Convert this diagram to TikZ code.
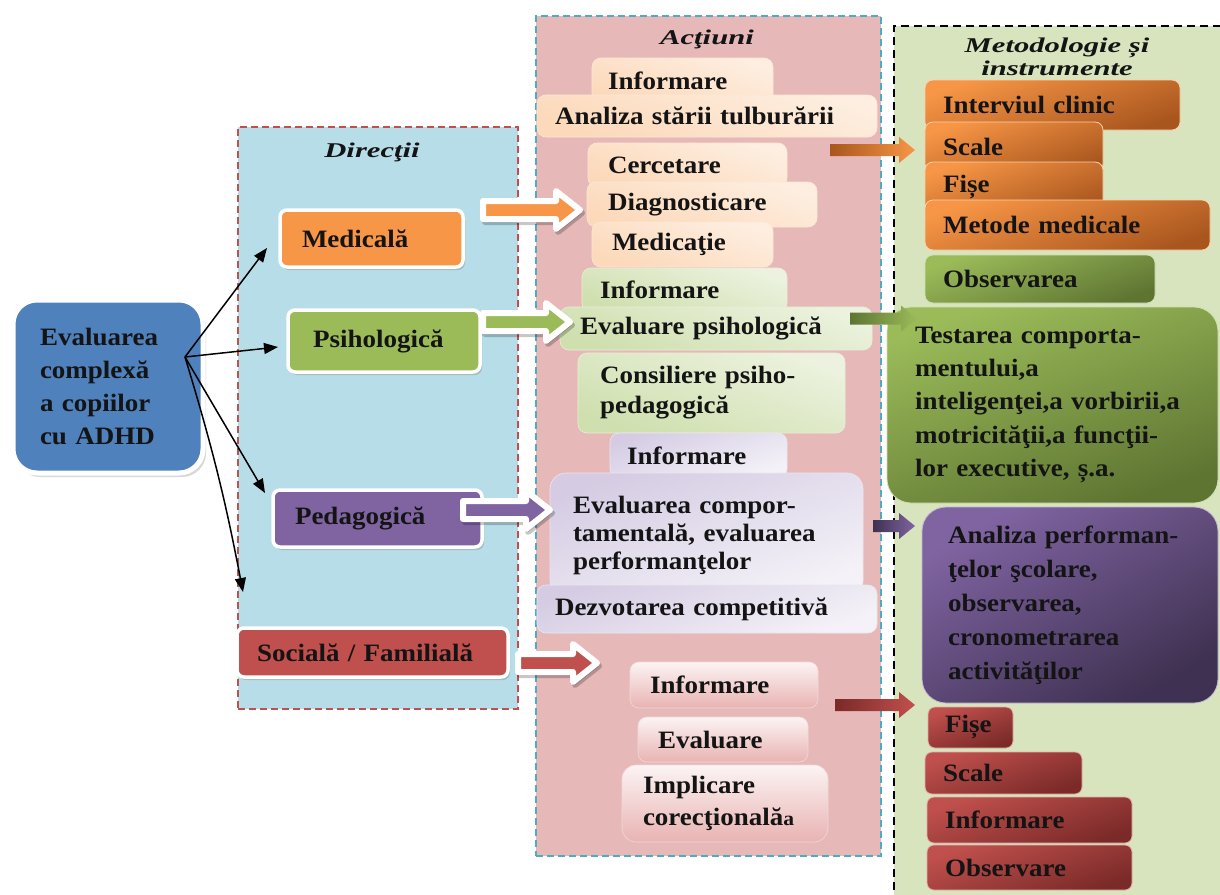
\documentclass[tikz,border=0pt]{standalone}
\usepackage{fontspec}
\setmainfont{Liberation Serif}[FakeStretch=1.08]
\usepackage{graphicx}
\usetikzlibrary{shadows,arrows.meta,calc}
\definecolor{dirbg}{HTML}{B7DEE8}
\definecolor{actbg}{HTML}{E6B9B8}
\definecolor{metbg}{HTML}{D7E4BD}
\definecolor{cblue}{HTML}{4F81BD}
\definecolor{corange}{HTML}{F79646}
\definecolor{cgreen}{HTML}{9BBB59}
\definecolor{cpurple}{HTML}{8064A2}
\definecolor{cred}{HTML}{C0504D}
\definecolor{cteal}{HTML}{4BACC6}
\definecolor{dorange}{HTML}{A9561E}
\definecolor{dgreen}{HTML}{5E7532}
\definecolor{dpurple}{HTML}{3F3151}
\definecolor{dred}{HTML}{7A2A28}
\definecolor{lorange}{HTML}{FBCFA8}
\definecolor{lgreen}{HTML}{CFDFAE}
\definecolor{lpurple}{HTML}{D5CCE3}
\definecolor{lred}{HTML}{E8B3B2}
\newcommand\bodyfont{\fontsize{25}{29}\selectfont\bfseries}
\newcommand\ttlfont{\fontsize{21}{23}\selectfont\bfseries\itshape}
\newcommand\ttl[1]{\scalebox{1.35}[1]{#1}}
\newcommand\fatpath[1]{(0,-9) -- ({#1-24},-9) -- ({#1-24},-19) -- (#1,0) -- ({#1-24},19) -- ({#1-24},9) -- (0,9) -- cycle}
\newcommand\solpath[1]{(0,-6) -- ({#1-16},-6) -- ({#1-16},-13) -- (#1,0) -- ({#1-16},13) -- ({#1-16},6) -- (0,6) -- cycle}
\tikzset{
  pics/fatarrow/.style n args={2}{code={
    \begin{scope}[shift={(2,3)}]
      \fill[black,opacity=.22,line width=6pt,draw=black,draw opacity=.22,line join=round] \fatpath{#1};
    \end{scope}
    \draw[white,line width=6pt,line join=round,fill=#2] \fatpath{#1};
  }},
  pics/solarrow/.style n args={3}{code={
    \shade[left color=#2,right color=#3] \solpath{#1};
  }},
}
\begin{document}
\begin{tikzpicture}[x=1pt,y=-1pt,
  every node/.style={font=\bodyfont,text=black!92},
  panel/.style={anchor=north west,inner sep=0pt,line width=1.6pt,dash pattern=on 7pt off 4pt},
  ttlnode/.style={font=\ttlfont,align=center,inner sep=0pt},
  box/.style={anchor=north west,align=left,inner ysep=0pt,outer sep=0pt},
  dirbox/.style={box,rounded corners=7pt,draw=white,line width=3.5pt,
    drop shadow={opacity=.35,shadow xshift=2pt,shadow yshift=-3pt}},
  mainbox/.style={box,rounded corners=24pt,draw=white,line width=5pt,fill=cblue,
    drop shadow={opacity=.3,shadow xshift=3pt,shadow yshift=-4pt}},
  actor/.style={box,rounded corners=9pt,draw=white!50!lorange,line width=.6pt,top color=white!20!lorange,bottom color=white!65!lorange,shading angle=160},
  actgr/.style={box,rounded corners=9pt,draw=white!50!lgreen,line width=.6pt,top color=lgreen,bottom color=white!60!lgreen,shading angle=160},
  actpu/.style={box,rounded corners=9pt,draw=white!50!lpurple,line width=.6pt,top color=white!75!lpurple,bottom color=lpurple,shading angle=200},
  actre/.style={box,rounded corners=9pt,draw=white!50!lred,line width=.6pt,top color=white!85!lred,bottom color=lred},
  metor/.style={box,rounded corners=8pt,draw=white!55!corange,line width=.8pt,top color=corange,bottom color=dorange,shading angle=20},
  metgr/.style={box,rounded corners=8pt,draw=white!55!cgreen,line width=.8pt,top color=cgreen,bottom color=dgreen,shading angle=20},
  metpu/.style={box,rounded corners=24pt,draw=white!55!cpurple,line width=.8pt,top color=cpurple,bottom color=dpurple,shading angle=30},
  metre/.style={box,rounded corners=7pt,draw=white!55!cred,line width=.8pt,top color=cred,bottom color=dred,shading angle=20},
  blk/.style={line width=1.5pt,-{Triangle[length=14pt,width=11pt]}},
]
\clip (0,0) rectangle (1220,894);
\fill[white] (0,0) rectangle (1220,894);

% panels
\node[panel,fill=dirbg,draw=cred,minimum width=280,minimum height=582] (dir) at (237,126) {};
\node[panel,fill=actbg,draw=cteal,minimum width=345,minimum height=840] (act) at (535,15) {};
\node[panel,fill=metbg,draw=black,line width=2.4pt,dash pattern=on 8pt off 5pt,minimum width=345,minimum height=885] (met) at (893,25) {};

\node[ttlnode] (tdir) at (372,152) {\ttl{Direcţii}};
\node[ttlnode] (tact) at (707,39) {\ttl{Acţiuni}};
\node[ttlnode] (tmet) at (1057,57) {\ttl{Metodologie și}\\\ttl{instrumente}};

% main box
\node[mainbox,text width=136,inner xsep=27,minimum height=173,font=\fontsize{25}{33}\selectfont\bfseries] (eval) at (13,300)
  {Evaluarea\\complexă\\a copiilor\\cu ADHD};

% direction boxes
\node[dirbox,fill=corange,text width=139,inner xsep=22,minimum height=57] (med) at (280,210) {Medicală};
\node[dirbox,fill=cgreen,text width=142,inner xsep=25,minimum height=62] (psi) at (288,310) {Psihologică};
\node[dirbox,fill=cpurple,text width=165,inner xsep=22,minimum height=57] (ped) at (273,490) {Pedagogică};
\node[dirbox,fill=cred,text width=231,inner xsep=20,minimum height=49] (soc) at (237,628) {Socială / Familială};

% black arrows
\coordinate (hub) at (185,357);
\coordinate (tmed) at (267,248);
\coordinate (tpsi) at (278,347);
\coordinate (tped) at (265,493);
\coordinate (tsoc) at (243,592);
\draw[blk] (hub) -- (tmed);
\draw[blk] (hub) -- (tpsi);
\draw[blk] (hub) -- (tped);
\draw[blk] (hub) to[bend left=3] (tsoc);

% actions
\node[actor,text width=149,inner xsep=16,minimum height=45] (ainf) at (592,58) {Informare};
\node[actor,text width=304,inner xsep=18,minimum height=42] (aana) at (537,95) {Analiza stării tulburării};
\node[actor,text width=159,inner xsep=20,minimum height=44] (acer) at (588,143) {Cercetare};
\node[actor,text width=188,inner xsep=21,minimum height=45] (adia) at (587,182) {Diagnosticare};
\node[actor,text width=141,inner xsep=20,minimum height=45] (amed) at (592,222) {Medicaţie};

\node[actgr,text width=169,inner xsep=18,minimum height=44] (ginf) at (582,268) {Informare};
\node[actgr,text width=272,inner xsep=20,minimum height=43] (gev) at (560,307) {Evaluare psihologică};
\node[actgr,text width=223,inner xsep=22,minimum height=80,font=\fontsize{25}{30}\selectfont\bfseries] (gcon) at (578,353) {Consiliere psiho-\\pedagogică};

\node[actpu,text width=143,inner xsep=17,minimum height=45] (pinf) at (610,433) {Informare};
\node[actpu,rounded corners=16pt,text width=267,inner xsep=23,minimum height=124,font=\fontsize{25}{28}\selectfont\bfseries] (pev) at (550,473) {Evaluarea compor-\\\mbox{tamentală, evaluarea}\\performanţelor};
\node[actpu,text width=304,inner xsep=18,minimum height=48] (pdez) at (537,585) {Dezvotarea competitivă};

\node[actre,text width=148,inner xsep=20,minimum height=46] (rinf) at (630,662) {Informare};
\node[actre,text width=130,inner xsep=20,minimum height=45] (rev) at (638,717) {Evaluare};
\node[actre,rounded corners=14pt,text width=164,inner xsep=21,minimum height=77,font=\fontsize{25}{32}\selectfont\bfseries] (rimp) at (622,765) {Implicare\\\mbox{corecţională{\fontsize{20}{20}\selectfont a}}};

% methods
\node[metor,text width=219,inner xsep=18,minimum height=50] (mint) at (925,80) {Interviul clinic};
\node[metor,text width=142,inner xsep=18,minimum height=50] (msca) at (925,122) {Scale};
\node[metor,text width=142,inner xsep=18,minimum height=50] (mfis) at (925,162) {Fișe};
\node[metor,text width=249,inner xsep=18,minimum height=50] (mmet) at (925,200) {Metode medicale};
\node[metgr,text width=194,inner xsep=18,minimum height=48] (mobs) at (925,255) {Observarea};
\node[metgr,rounded corners=24pt,text width=275,inner xsep=28,minimum height=196,font=\fontsize{25}{33.3}\selectfont\bfseries] (mtest) at (887,307)
  {\mbox{Testarea comporta-}\\\mbox{mentului,a}\\\mbox{inteligenţei,a vorbirii,a}\\\mbox{motricităţii,a funcţii-}\\\mbox{lor executive, ș.a.}};
\node[metpu,text width=244,inner xsep=26,minimum height=196,font=\fontsize{25}{34}\selectfont\bfseries] (mana) at (922,507)
  {\mbox{Analiza performan-}\\\mbox{ţelor şcolare,}\\\mbox{observarea,}\\\mbox{cronometrarea}\\\mbox{activităţilor}};
\node[metre,text width=51,inner xsep=17,minimum height=41] (rfis) at (928,707) {Fișe};
\node[metre,text width=121,inner xsep=18,minimum height=42] (rsca) at (925,752) {Scale};
\node[metre,text width=169,inner xsep=18,minimum height=46] (rinf2) at (927,797) {Informare};
\node[metre,text width=169,inner xsep=18,minimum height=45] (robs) at (927,845) {Observare};

% fat arrows directions -> actions
\pic at ($(med.north east)+(20,0)$) {fatarrow={97}{corange}};
\pic at ($(psi.north east)+(3,12)$) {fatarrow={87}{cgreen}};
\pic at ($(ped.north east)+(-19,20)$) {fatarrow={87}{cpurple}};
\pic at ($(soc.north east)+(10,35)$) {fatarrow={79}{cred}};

% solid arrows actions -> methods
\pic at ($(aana.south east)+(-47,13)$) {solarrow={85}{dorange}{corange}};
\pic at ($(gev.east)+(-22,-10)$) {solarrow={67}{dgreen}{cgreen}};
\pic at ($(pev.north east)+(10,53)$) {solarrow={42}{dpurple}{cpurple}};
\pic at ($(rinf.east)+(17,20)$) {solarrow={80}{dred}{cred}};
\end{tikzpicture}
\end{document}
